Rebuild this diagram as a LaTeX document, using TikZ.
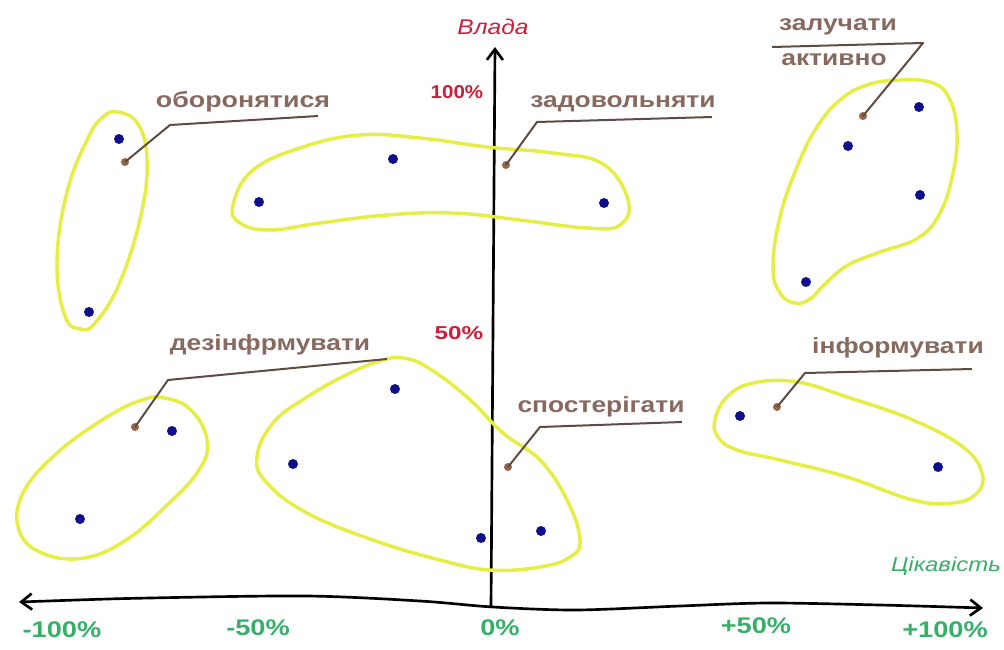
\documentclass[tikz,border=0pt]{standalone}
\usepackage{fontspec}
\setmainfont{Liberation Sans}
\usetikzlibrary{arrows.meta}
\definecolor{hl}{RGB}{230,238,70}
\definecolor{dotblue}{RGB}{15,15,140}
\definecolor{lbl}{RGB}{135,105,95}
\definecolor{lead}{RGB}{95,75,65}
\definecolor{ldot}{RGB}{150,100,70}
\definecolor{axred}{RGB}{205,30,55}
\definecolor{axgreen}{RGB}{55,175,105}
\begin{document}
\begin{tikzpicture}[x=0.75pt,y=-0.75pt,
  blob/.style={draw=hl,line width=2.6pt},
  pt/.style={circle,fill=dotblue,inner sep=0pt,minimum size=7.5pt},
  ldotst/.style={circle,fill=ldot,inner sep=0pt,minimum size=6pt},
  leader/.style={draw=lead,line width=1.5pt,line join=round},
  lab/.style={text=lbl,font=\fontsize{16.5}{18}\selectfont\bfseries,inner sep=0pt},
  axlab/.style={text=axgreen,font=\fontsize{17}{19}\selectfont\bfseries,inner sep=0pt},
  redlab/.style={text=axred,font=\fontsize{14}{16}\selectfont\bfseries,inner sep=0pt},
  axis/.style={line width=2pt,black},
  tip/.tip={Straight Barb[length=8pt,width=12pt,line width=2pt]}]
\useasboundingbox (0,0) rectangle (1004,650);

% axes
\coordinate (vb) at (491,607);
\coordinate (vt) at (495,47);
\draw[axis,-tip] (vb) -- (vt);
\coordinate (h0) at (19,602);
\coordinate (h9) at (983,608);
\draw[axis,tip-tip] plot[smooth] coordinates {(h0) (150,598) (307,596) (420,601) (493,607) (576,610) (680,606) (768,603) (880,605) (h9)};

% axis labels
\node[font=\fontsize{16}{18}\selectfont\itshape,text=axred,inner sep=0pt] (vlada) at (493,27) {\scalebox{1.15}[1]{Влада}};
\node[font=\fontsize{15}{18}\selectfont\itshape,text=axgreen,inner sep=0pt] (cik) at (946,566) {\scalebox{1.2}[1]{Цікавість}};
\node[redlab] (p100) at (457,92) {\scalebox{1.1}[1]{100\%}};
\node[redlab] (p50) at (459,333) {\scalebox{1.3}[1]{50\%}};
\node[axlab] (m100) at (62,630) {\scalebox{1.2}[1]{-100\%}};
\node[axlab] (m50) at (258,628) {\scalebox{1.2}[1]{-50\%}};
\node[axlab] (z0) at (500,628) {\scalebox{1.2}[1]{0\%}};
\node[axlab] (p50x) at (756,626) {\scalebox{1.2}[1]{+50\%}};
\node[axlab] (p100x) at (945,630) {\scalebox{1.2}[1]{+100\%}};

% blobs
\draw[blob] plot[smooth cycle,tension=0.7] coordinates {(118,112) (138,124) (147,160) (141,215) (120,282) (96,322) (81,329) (65,316) (57,262) (67,192) (88,138) (103,117)};
\draw[blob] plot[smooth cycle,tension=0.7] coordinates {(233,205) (253,170) (303,147) (360,135) (420,138) (487,147) (553,153) (603,164) (628,200) (620,225) (587,228) (520,220) (453,213) (387,215) (320,223) (270,230) (240,223)};
\draw[blob] plot[smooth cycle,tension=0.7] coordinates {(900,80) (933,83) (950,100) (957,133) (953,173) (940,213) (918,238) (880,252) (848,265) (826,283) (810,299) (795,303) (780,293) (773,267) (780,217) (797,167) (817,127) (840,100) (867,85)};
\draw[blob] plot[smooth cycle,tension=0.7] coordinates {(165,398) (191,410) (207,440) (199,470) (165,507) (126,540) (84,558) (42,553) (19,530) (23,493) (57,453) (107,417) (142,400)};
\draw[blob] plot[smooth cycle,tension=0.7] coordinates {(403,358) (427,367) (467,397) (503,433) (540,460) (567,500) (580,540) (570,557) (540,567) (490,570) (440,560) (373,540) (307,513) (267,483) (257,457) (273,423) (307,397) (350,373) (383,360)};
\draw[blob] plot[smooth cycle,tension=0.7] coordinates {(715,420) (727,397) (753,383) (797,382) (847,397) (913,420) (963,447) (982,473) (977,493) (953,503) (913,500) (847,477) (780,460) (737,450) (718,437)};

% blue points
\node[pt] (a1) at (119,139) {};
\node[pt] (a2) at (89,312) {};
\node[pt] (b1) at (393,159) {};
\node[pt] (b2) at (259,202) {};
\node[pt] (b3) at (604,203) {};
\node[pt] (c1) at (919,107) {};
\node[pt] (c2) at (848,146) {};
\node[pt] (c3) at (920,195) {};
\node[pt] (c4) at (806,282) {};
\node[pt] (d1) at (172,431) {};
\node[pt] (d2) at (80,519) {};
\node[pt] (e1) at (395,389) {};
\node[pt] (e2) at (293,464) {};
\node[pt] (e3) at (481,538) {};
\node[pt] (e4) at (541,531) {};
\node[pt] (f1) at (740,416) {};
\node[pt] (f2) at (938,467) {};

% labels with leaders
\node[lab] (t1) at (243,102) {\scalebox{1.22}[1]{оборонятися}};
\node[ldotst] (l1) at (125,162) {};
\coordinate (k1) at (170,125);
\coordinate (e1e) at (318,116);
\draw[leader] (l1.center) -- (k1) -- (e1e);

\node[lab] (t2) at (623,104) {\scalebox{1.2}[1]{задовольняти}};
\node[ldotst] (l2) at (506,165) {};
\coordinate (k2) at (537,122);
\coordinate (e2e) at (712,117);
\draw[leader] (l2.center) -- (k2) -- (e2e);

\node[lab] (t3a) at (838,27) {\scalebox{1.2}[1]{залучати}};
\node[lab] (t3b) at (834,60) {\scalebox{1.2}[1]{активно}};
\node[ldotst] (l3) at (863,116) {};
\coordinate (k3) at (923,43);
\coordinate (e3e) at (772,47);
\draw[leader] (l3.center) -- (k3) -- (e3e);

\node[lab] (t4) at (270,345) {\scalebox{1.2}[1]{дезінфрмувати}};
\node[ldotst] (l4) at (135,427) {};
\coordinate (k4) at (168,380);
\coordinate (e4e) at (387,359);
\draw[leader] (l4.center) -- (k4) -- (e4e);

\node[lab] (t5) at (601,407) {\scalebox{1.2}[1]{спостерігати}};
\node[ldotst] (l5) at (508,467) {};
\coordinate (k5) at (540,427);
\coordinate (e5e) at (682,422);
\draw[leader] (l5.center) -- (k5) -- (e5e);

\node[lab] (t6) at (898,348) {\scalebox{1.2}[1]{інформувати}};
\node[ldotst] (l6) at (777,407) {};
\coordinate (k6) at (805,373);
\coordinate (e6e) at (972,369);
\draw[leader] (l6.center) -- (k6) -- (e6e);
\end{tikzpicture}
\end{document}
